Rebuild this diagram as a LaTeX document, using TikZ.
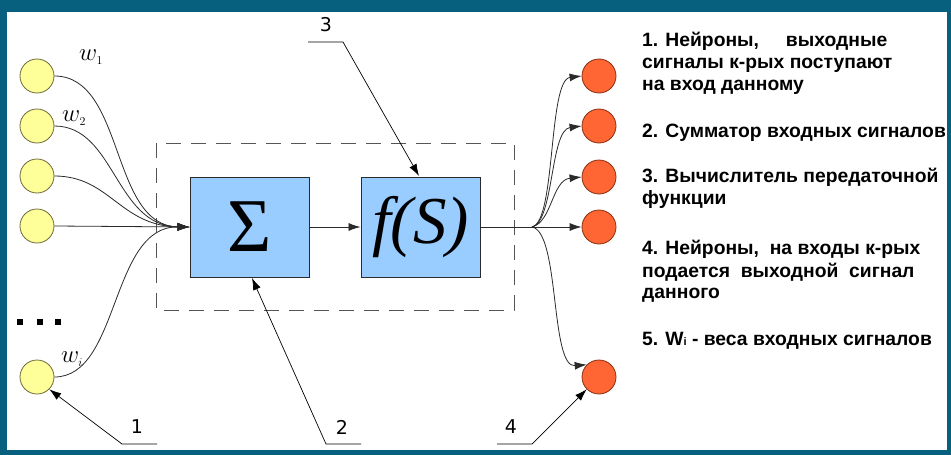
\documentclass[tikz,border=0pt]{standalone}
\usepackage{fontspec}
\setmainfont{Liberation Sans}
\newfontfamily\calloutfont{DejaVu Sans}
\newfontfamily\blockfont{Liberation Serif}
\usetikzlibrary{arrows.meta}

\definecolor{framecol}{HTML}{06607E}
\definecolor{inneuron}{HTML}{FFFF99}
\definecolor{inedge}{HTML}{6E6A3A}
\definecolor{outneuron}{HTML}{FF6633}
\definecolor{outedge}{HTML}{8A2E10}
\definecolor{blockfill}{HTML}{99CCFF}
\definecolor{wire}{HTML}{2A2A2A}

\tikzset{
  inn/.style={circle, draw=inedge, fill=inneuron, line width=0.8pt, minimum size=34pt, inner sep=0pt},
  outn/.style={circle, draw=outedge, fill=outneuron, line width=0.8pt, minimum size=34pt, inner sep=0pt},
  block/.style={draw=wire, fill=blockfill, line width=0.9pt, minimum width=119pt, minimum height=100pt, inner sep=0pt},
  link/.style={draw=wire, line width=0.8pt, -{Latex[length=12pt,width=8pt]}},
  callout/.style={draw=black, line width=0.7pt},
  pointer/.style={callout, -{Latex[length=12pt,width=8pt]}},
  tag/.style={font=\calloutfont\fontsize{19}{19}\selectfont, inner sep=0pt},
  weight/.style={font=\fontsize{25}{25}\selectfont, inner sep=0pt},
  legend/.style={anchor=base west, inner sep=0pt, font=\bfseries\fontsize{19.3}{19.3}\selectfont, text=black},
  dot/.style={fill=black, minimum size=6pt, inner sep=0pt, rectangle}
}

\begin{document}
\begin{tikzpicture}[x=1pt,y=-1pt]
\useasboundingbox (0,0) rectangle (951,455);
% frame
\fill[framecol] (0,0) rectangle (951,455);
\fill[white] (7,12) rectangle (947,450);

% enclosing dashed outline of the neuron
\draw[draw=wire!80, line width=0.8pt, dash pattern=on 15pt off 10pt] (156,143) rectangle (514,310);

% blocks
\node[block] (sum) at (249.5,227) {\blockfont\fontsize{76}{76}\selectfont\raisebox{-2pt}{Σ}};
\node[block] (act) at (420.5,227) {\blockfont\itshape\fontsize{67}{67}\selectfont f(S)};

% input neurons
\node[inn] (i1) at (37,76) {};
\node[inn] (i2) at (37,126) {};
\node[inn] (i3) at (37,176) {};
\node[inn] (i4) at (37,226) {};
\node[inn] (i5) at (37,377) {};

% ellipsis between inputs
\node[dot] (d1) at (19.5,321.5) {};
\node[dot] (d2) at (39.5,321.5) {};
\node[dot] (d3) at (57.5,321.5) {};

% weight labels
\node[weight] (lw1) at (91,57) {$w_{\scriptscriptstyle 1}$};
\node[weight] (lw2) at (74,118) {$w_{\scriptscriptstyle 2}$};
\node[weight] (lwi) at (72,359) {$w_{\scriptscriptstyle i}$};

% output neurons
\node[outn] (o1) at (599,76) {};
\node[outn] (o2) at (599,126) {};
\node[outn] (o3) at (599,177) {};
\node[outn] (o4) at (599,227) {};
\node[outn] (o5) at (599,377) {};

% input connections
\coordinate (sumin) at (sum.west);
\draw[link] (i1.east) .. controls (125,76) and (110,226) .. (sumin);
\draw[link] (i2.east) .. controls (115,126) and (115,226) .. (sumin);
\draw[link] (i3.east) .. controls (110,176) and (120,226) .. (sumin);
\draw[link] (i4.east) -- (sumin);
\draw[link] (i5.east) .. controls (120,377) and (110,226) .. (sumin);

% between blocks
\draw[link] (sum.east) -- (act.west);

% output fan
\coordinate (fan) at (532,227);
\draw[draw=wire, line width=0.8pt] (act.east) -- (fan);
\draw[link] (fan) .. controls (556,222) and (548,80) .. (o1.west);
\draw[link] (fan) .. controls (554,222) and (550,130) .. (o2.west);
\draw[link] (fan) .. controls (552,222) and (552,180) .. (o3.west);
\draw[link] (fan) -- (o4.west);
\draw[link] (fan) .. controls (560,232) and (550,368) .. (o5.north west);

% callouts
\node[tag] (t1) at (137,427) {1};
\node[tag] (t2) at (342,427) {2};
\node[tag] (t3) at (326,25) {3};
\node[tag] (t4) at (511,427) {4};

\coordinate (c1a) at (157,444); \coordinate (c1b) at (122,444);
\draw[pointer] (c1a) -- (c1b) -- (i5.south east);
\coordinate (c2a) at (361,444); \coordinate (c2b) at (326,444);
\coordinate (c2t) at (252,278);
\draw[pointer] (c2a) -- (c2b) -- (c2t);
\coordinate (c3a) at (308,42); \coordinate (c3b) at (343,42);
\coordinate (c3t) at (419,176);
\draw[pointer] (c3a) -- (c3b) -- (c3t);
\coordinate (c4a) at (497,444); \coordinate (c4b) at (532,444);
\draw[pointer] (c4a) -- (c4b) -- (o5.south west);

% legend
\node[legend] (l1a) at (642,46) {\makebox[245pt][l]{1. Нейроны,\hfill выходные}};
\node[legend] (l1b) at (642,68) {сигналы к-рых поступают};
\node[legend] (l1c) at (642,90.5) {на вход данному};
\node[legend] (l2) at (642,137) {2. Сумматор входных сигналов};
\node[legend] (l3a) at (642,182) {3. Вычислитель передаточной};
\node[legend] (l3b) at (642,204) {функции};
\node[legend] (l4a) at (642,254) {4. Нейроны,\ \ на входы к-рых};
\node[legend] (l4b) at (642,277) {подается\ \ выходной\ \ сигнал};
\node[legend] (l4c) at (642,298) {данного};
\node[legend] (l5) at (642,345) {5. W{\fontsize{11}{11}\selectfont i} - веса входных сигналов};
\end{tikzpicture}
\end{document}
